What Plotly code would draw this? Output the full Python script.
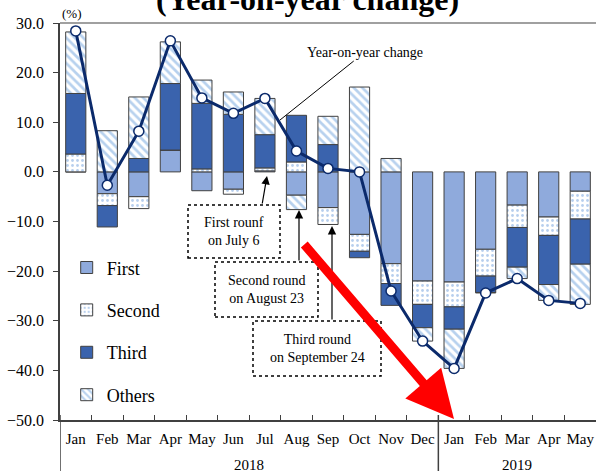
import plotly.graph_objects as go

# ---------------------------------------------------------------------------
# Data (percent, contribution to year-on-year change)
# ---------------------------------------------------------------------------
months = ["Jan", "Feb", "Mar", "Apr", "May", "Jun", "Jul", "Aug", "Sep",
          "Oct", "Nov", "Dec", "Jan", "Feb", "Mar", "Apr", "May"]
years = ["2018"] * 12 + ["2019"] * 5

first = [0.0, -4.4, -5.0, 4.4, -3.8, -3.5, 0.2, -4.7, -7.2,
         -12.6, -18.5, -22.0, -22.2, -15.6, -6.7, -9.1, -3.9]
second = [3.6, -2.4, -2.4, 0.0, 0.6, -1.0, 0.6, 2.0, -3.4,
          -3.4, -4.0, -4.7, -5.0, -5.4, -4.5, -3.7, -5.6]
third = [12.2, -4.3, 2.7, 13.4, 13.2, 11.6, 6.7, 9.4, 5.5,
         -1.3, -4.4, -4.7, -4.5, -3.3, -8.0, -9.9, -9.1]
others = [12.4, 8.3, 12.4, 8.4, 4.7, 4.5, 7.3, -2.9, 5.7,
          17.1, 2.7, -2.7, -7.9, -0.1, -2.3, -3.2, -8.1]
yoy = [28.4, -2.7, 8.2, 26.4, 14.9, 11.8, 14.8, 4.2, 0.7,
       0.0, -24.0, -34.1, -39.6, -24.4, -21.5, -25.9, -26.5]

FONT = "Liberation Serif"
EDGE = "#404040"
NAVY = "#0B2A6B"

# plot area in page pixels, used to place the annotations
L, R, T, B = 60, 596, 23, 420
PAGE_H = 471


def px(x, y):
    return (x - L) / (R - L), (B - y) / (B - T)


# unique category per month, shown with the month name only
cats = [f"{m} {y}" for m, y in zip(months, years)]

fig = go.Figure()

series = [
    ("First", first, dict(color="#8FAADC")),
    ("Second", second, dict(color="white", pattern=dict(
        shape=".", fgcolor="#6FA0DC", bgcolor="white", size=5, solidity=0.25))),
    ("Third", third, dict(color="#3A63AD")),
    ("Others", others, dict(color="white", pattern=dict(
        shape="\\", fgcolor="#6FA3DE", bgcolor="white", size=6, solidity=0.45))),
]

for name, vals, marker in series:
    fig.add_trace(go.Bar(
        x=cats, y=vals, name=name, legendgroup=name,
        marker=dict(**marker, line=dict(color=EDGE, width=1)),
    ))

fig.add_trace(go.Scatter(
    x=cats, y=yoy, mode="lines+markers", name="Year-on-year change",
    showlegend=False,
    line=dict(color=NAVY, width=3),
    marker=dict(symbol="circle", size=10, color="white",
                line=dict(color=NAVY, width=1.5)),
))

annotations = []
shapes = []

# year labels under the month labels, with dividers between the years
year_names = list(dict.fromkeys(years))
bottom = px(0, PAGE_H)[1]
for yname in year_names:
    idx = [i for i, y in enumerate(years) if y == yname]
    annotations.append(dict(
        x=(idx[0] + idx[-1]) / 2, y=px(0, 465)[1], xref="x", yref="paper",
        xanchor="center", yanchor="middle", text=yname, showarrow=False,
        font=dict(family=FONT, size=15, color="black"),
    ))
    shapes.append(dict(
        type="line", xref="x", yref="paper",
        x0=idx[0] - 0.5, x1=idx[0] - 0.5, y0=px(0, 415)[1], y1=bottom,
        line=dict(color=EDGE, width=1.5),
    ))

# cut-off title at the very top of the page (clipped as in the original)
tx, ty = px(307, 19)
annotations.append(dict(
    x=tx, y=ty, xref="paper", yref="paper", xanchor="center", yanchor="bottom",
    text="<b>(Year-on-year change)</b>", showarrow=False,
    font=dict(family=FONT, size=32, color="black"),
))

ux, uy = px(72, 14)
annotations.append(dict(
    x=ux, y=uy, xref="paper", yref="paper", xanchor="center", yanchor="middle",
    text="(%)", showarrow=False,
    font=dict(family=FONT, size=13, color="black"),
))

# "Year-on-year change" label with leader line
lx, ly = px(280, 120)
annotations.append(dict(
    x=lx, y=ly, xref="paper", yref="paper", ax=85, ay=-68,
    xanchor="center", yanchor="middle",
    text="Year-on-year change", showarrow=True, arrowhead=0,
    arrowwidth=1, arrowcolor="black",
    font=dict(family=FONT, size=14, color="black"),
))

# tariff rounds: dotted boxes with arrows
boxes = [
    ("First rounf<br>on July 6", (188, 205, 280, 258), (267, 176), (262, 205)),
    ("Second round<br>on August 23", (215, 262, 318, 317), (299, 210), (299, 262)),
    ("Third round<br>on September 24", (253, 321, 381, 376), (332, 226), (332, 321)),
]

for text, (x0, y0, x1, y1), tip, tail in boxes:
    bx0, by0 = px(x0, y1)
    bx1, by1 = px(x1, y0)
    shapes.append(dict(
        type="rect", xref="paper", yref="paper", x0=bx0, y0=by0, x1=bx1, y1=by1,
        line=dict(color="black", width=1.5, dash="dot"), fillcolor="white",
    ))
    cx, cy = px((x0 + x1) / 2, (y0 + y1) / 2)
    annotations.append(dict(
        x=cx, y=cy, xref="paper", yref="paper", xanchor="center", yanchor="middle",
        text=text, showarrow=False,
        font=dict(family=FONT, size=14, color="black"),
    ))
    ax_, ay_ = px(*tip)
    annotations.append(dict(
        x=ax_, y=ay_, xref="paper", yref="paper", text="", showarrow=True,
        ax=tail[0] - tip[0], ay=tail[1] - tip[1],
        arrowhead=2, arrowsize=1.4, arrowwidth=1.2, arrowcolor="black",
    ))

# big red arrow
rx, ry = px(454, 419)
annotations.append(dict(
    x=rx, y=ry, xref="paper", yref="paper", text="", showarrow=True,
    ax=303 - 454, ay=243 - 419,
    arrowhead=2, arrowsize=1.05, arrowwidth=9, arrowcolor="#FF0000",
))

# grey frame line along the top
shapes.append(dict(
    type="line", xref="paper", yref="paper", x0=0, x1=1, y0=1, y1=1,
    line=dict(color="#808080", width=1.5),
))

fig.update_layout(
    barmode="relative",
    bargap=0.36,
    width=596, height=PAGE_H,
    margin=dict(l=L, r=596 - R, t=T, b=PAGE_H - B),
    paper_bgcolor="white",
    plot_bgcolor="white",
    font=dict(family=FONT, color="black"),
    showlegend=True,
    legend=dict(
        x=0.0125, y=0.43, xanchor="left", yanchor="top",
        font=dict(family=FONT, size=18),
        bgcolor="rgba(0,0,0,0)", tracegroupgap=16,
        traceorder="grouped",
    ),
    xaxis=dict(
        type="category", tickvals=cats, ticktext=months,
        range=[-0.5, len(cats) - 0.5],
        tickson="boundaries", tickangle=0, automargin=False,
        ticks="inside", ticklen=5, tickcolor=EDGE,
        showline=True, linecolor=EDGE, linewidth=1.5,
        showgrid=False, ticklabelstandoff=4,
        tickfont=dict(family=FONT, size=15),
    ),
    xaxis2=dict(
        overlaying="x", anchor="free", position=50 / 80,
        range=[-0.5, len(cats) - 0.5], tickvals=list(range(len(cats))),
        ticks="inside", ticklen=4, tickcolor=EDGE,
        showticklabels=False, showline=True, linecolor=EDGE, linewidth=1.5,
        showgrid=False, zeroline=False,
    ),
    yaxis=dict(
        range=[-50, 30], dtick=10, tickformat=".1f", automargin=False,
        ticks="outside", ticklen=5, tickcolor=EDGE,
        showline=True, linecolor=EDGE, linewidth=1.5,
        showgrid=False, zeroline=False,
        tickfont=dict(family=FONT, size=16),
        ticklabelstandoff=6,
    ),
    annotations=annotations,
    shapes=shapes,
)

# drop the browser's default body margin so the figure sits at the page corner
fig.write_html(
    "out.html",
    config={"displayModeBar": False},
    post_script="document.body.style.margin='0';",
)
